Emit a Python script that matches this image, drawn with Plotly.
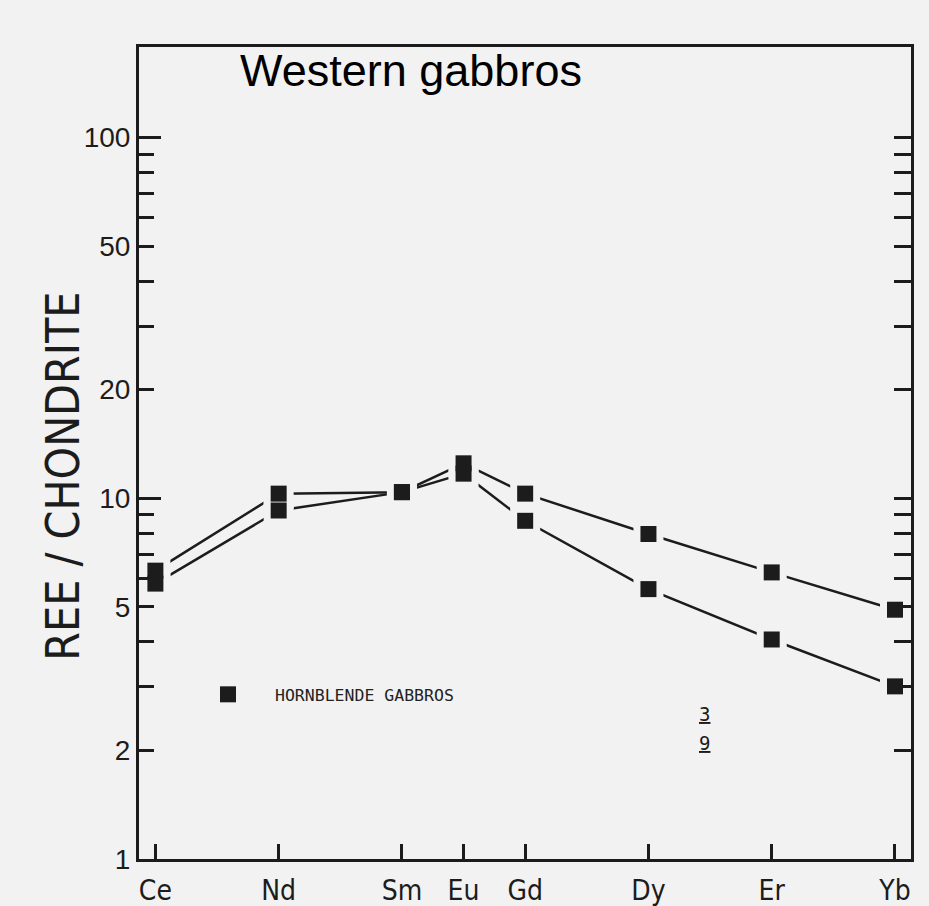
import plotly.graph_objects as go

# ---- data ----
elements = ["Ce", "Nd", "Sm", "Eu", "Gd", "Dy", "Er", "Yb"]
atomic_numbers = [58, 60, 62, 63, 64, 66, 68, 70]
gabbro_upper = [6.3, 10.3, 10.4, 12.5, 10.3, 7.96, 6.23, 4.91]
gabbro_lower = [5.8, 9.25, 10.4, 11.7, 8.66, 5.6, 4.06, 3.01]

y_tick_vals = [1, 2, 5, 10, 20, 50, 100]
y_tick_text = ["1", "2", "5", "10", "20", "50", "100"]
y_minor_vals = [3, 4, 6, 7, 8, 9, 30, 40, 60, 70, 80, 90]
y_decade_vals = [1, 10, 100]

legend_label = "HORNBLENDE GABBROS"
chart_title = "Western gabbros"
y_title = "REE / CHONDRITE"

BG = "#f2f2f2"
INK = "#1c1c1c"
NARROW = "Liberation Sans Narrow, DejaVu Sans Condensed, Arial Narrow, Liberation Sans, sans-serif"
SANS = "Liberation Sans, Arial, Helvetica, sans-serif"
MONO = "DejaVu Sans Mono, Liberation Mono, monospace"

series = [gabbro_upper, gabbro_lower]

fig = go.Figure()

# connecting lines
for vals in series:
    fig.add_trace(go.Scatter(x=atomic_numbers, y=vals, mode="lines",
                             line=dict(color=INK, width=2.5),
                             showlegend=False, hoverinfo="skip"))
# halos (background-coloured squares leave a small gap around markers)
for vals in series:
    fig.add_trace(go.Scatter(x=atomic_numbers, y=vals, mode="markers",
                             marker=dict(symbol="square", size=30, color=BG),
                             showlegend=False, hoverinfo="skip"))
# black square markers
for i, vals in enumerate(series):
    fig.add_trace(go.Scatter(x=atomic_numbers, y=vals, mode="markers",
                             marker=dict(symbol="square", size=16, color=INK),
                             name=legend_label, showlegend=(i == 0)))
# invisible companions so the extra tick axes (right side, long decade ticks) get drawn
for ax in ["y2", "y3"]:
    fig.add_trace(go.Scatter(x=atomic_numbers, y=gabbro_upper, yaxis=ax, mode="markers",
                             marker=dict(opacity=0), showlegend=False, hoverinfo="skip"))

x0, x1 = 139, 911
y0, y1 = 47, 859.5
W, H = 929, 906

def px_x(p):
    return (p - x0) / (x1 - x0)

def px_y(p):
    return (y1 - p) / (y1 - y0)

fig.update_layout(
    template="none",
    width=W, height=H,
    margin=dict(l=x0, r=W - x1, t=y0, b=H - y1, autoexpand=False),
    paper_bgcolor=BG, plot_bgcolor=BG,
    title=dict(text=chart_title, font=dict(family=SANS, size=45, color="#000"),
               x=411 / W, xanchor="center", y=1 - 70 / H, yanchor="middle"),
    showlegend=True,
    legend=dict(x=px_x(181), y=px_y(695), xanchor="left", yanchor="middle",
                bgcolor="rgba(0,0,0,0)", itemwidth=84,
                font=dict(family=MONO, size=16.5, color="#222")),
    xaxis=dict(
        range=[57.734, 70.26], tickvals=atomic_numbers, ticktext=elements,
        ticks="inside", ticklen=15, tickwidth=2.5, tickcolor=INK,
        showline=True, linewidth=3, linecolor=INK, mirror=True,
        showgrid=False, zeroline=False, ticklabelstandoff=4, automargin=False,
        tickfont=dict(family=NARROW, size=28, color=INK),
    ),
    yaxis=dict(
        type="log", range=[0, 2.251], tickvals=y_tick_vals, ticktext=y_tick_text,
        ticks="inside", ticklen=15, tickwidth=2.5, tickcolor=INK,
        minor=dict(tickvals=y_minor_vals, ticks="inside", ticklen=15, tickwidth=2.5, tickcolor=INK, showgrid=False),
        showline=True, linewidth=3, linecolor=INK, mirror=True,
        showgrid=False, zeroline=False, ticklabelstandoff=0, automargin=False,
        tickfont=dict(family=SANS, size=28, color=INK),
    ),
    yaxis2=dict(
        type="log", range=[0, 2.251], overlaying="y", side="right", anchor="x",
        tickvals=y_tick_vals + y_minor_vals, showticklabels=False,
        ticks="inside", ticklen=17, tickwidth=2.5, tickcolor=INK,
        showline=False, showgrid=False, zeroline=False, automargin=False,
    ),
    yaxis3=dict(
        type="log", range=[0, 2.251], overlaying="y", side="left", anchor="x",
        tickvals=y_decade_vals, showticklabels=False,
        ticks="inside", ticklen=22, tickwidth=2.5, tickcolor=INK,
        showline=False, showgrid=False, zeroline=False, automargin=False,
    ),
    annotations=[
        dict(text=y_title, textangle=-90, xref="paper", yref="paper",
             x=px_x(63), y=px_y(477), xanchor="center", yanchor="middle",
             showarrow=False, font=dict(family=NARROW, size=46, color=INK)),
        dict(text="<u>3</u>", xref="paper", yref="paper", x=px_x(712), y=px_y(727),
             showarrow=False, font=dict(family=MONO, size=19, color="#1a1a1a")),
        dict(text="<u>9</u>", xref="paper", yref="paper", x=px_x(712), y=px_y(756),
             showarrow=False, font=dict(family=MONO, size=19, color="#1a1a1a")),
    ],
)

fig.write_html("out.html", config={"displayModeBar": False},
               post_script="document.body.style.margin='0';")
